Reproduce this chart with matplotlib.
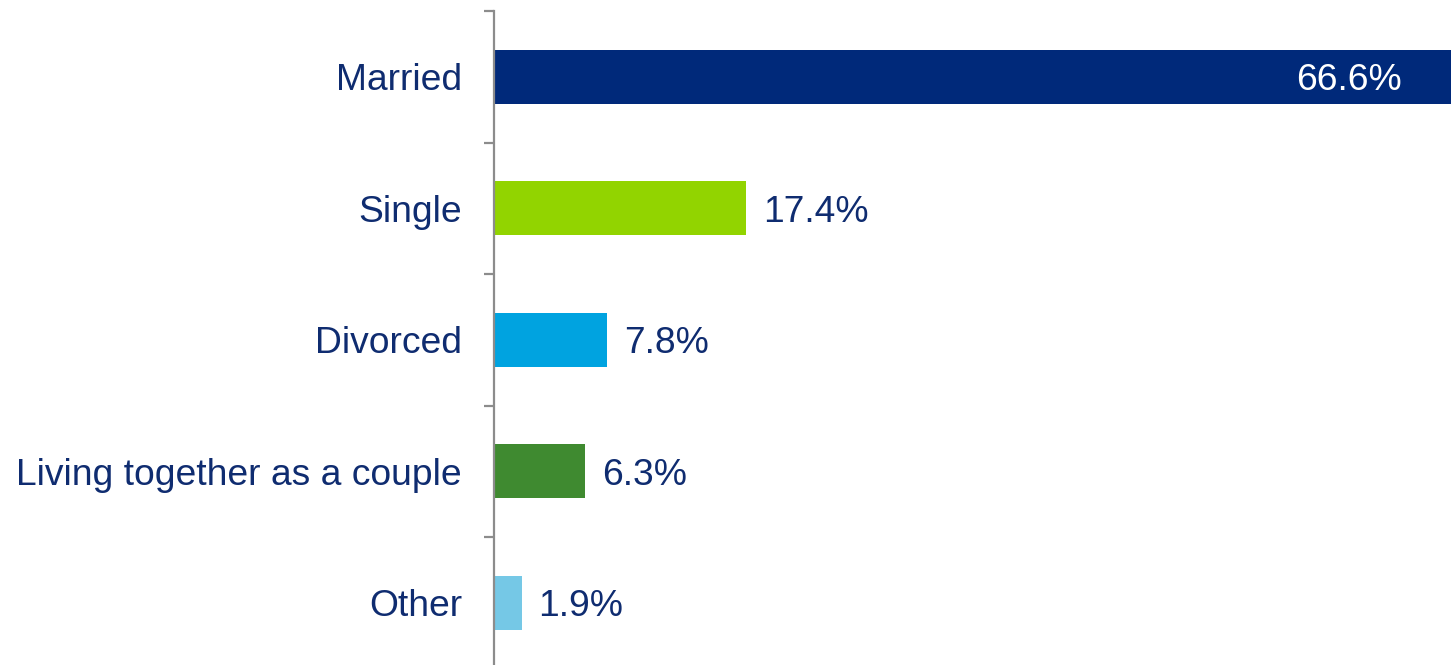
import matplotlib.pyplot as plt

categories = ["Married", "Single", "Divorced", "Living together as a couple", "Other"]
values = [66.6, 17.4, 7.8, 6.3, 1.9]
colors = ["#00297A", "#92D400", "#00A3E0", "#3F8A30", "#75C8E6"]
text_color = "#0F2C70"
axis_grey = "#8C8C8C"

plt.rcParams["font.family"] = ["Liberation Sans", "DejaVu Sans"]

fig = plt.figure(figsize=(14.51, 6.65), dpi=100)
ax = fig.add_axes([494 / 1451, -3.5 / 665, 957 / 1451, 657.5 / 665])

pos = list(range(len(categories)))
ax.barh(pos, values, height=0.41, color=colors)
ax.set_xlim(0, 66)
ax.set_ylim(len(categories) - 0.5, -0.5)

# value labels: inside the first bar (it runs off the chart), outside the rest
for i, v in enumerate(values):
    if i == 0:
        ax.annotate(f"{v:.1f}%", xy=(1, i), xycoords=("axes fraction", "data"),
                    xytext=(-35.3, 0), textcoords="offset points",
                    ha="right", va="center_baseline", fontsize=26.8, color="white")
    else:
        ax.annotate(f"{v:.1f}%", xy=(v, i), xytext=(12, 0), textcoords="offset points",
                    ha="left", va="center_baseline", fontsize=26.8, color=text_color)

ax.set_yticks(pos)
ax.set_yticklabels(categories, fontsize=26.8, color=text_color)
ax.tick_params(axis="y", which="major", length=0, pad=23)
ax.set_yticks([p - 0.5 for p in pos] + [len(pos) - 0.5], minor=True)
ax.tick_params(axis="y", which="minor", length=7.2, width=1.6, color=axis_grey)

ax.set_xticks([])
for side in ["top", "right", "bottom"]:
    ax.spines[side].set_visible(False)
ax.spines["left"].set_color(axis_grey)
ax.spines["left"].set_linewidth(1.6)

fig.savefig("out.png", dpi=100)
